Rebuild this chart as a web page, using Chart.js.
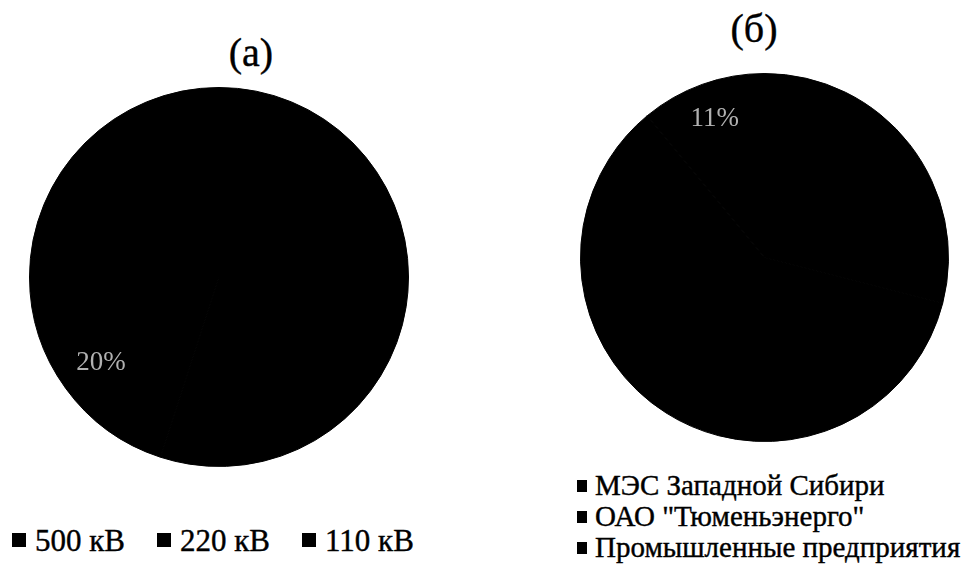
<!DOCTYPE html>
<html lang="ru">
  <head>
    <meta charset="UTF-8" />
    <title>Структура сетей</title>
    <script src="https://cdn.jsdelivr.net/npm/chart.js@4.4.0/dist/chart.umd.min.js"></script>
    <style>
      body {
        margin: 0;
        width: 970px;
        height: 573px;
        overflow: hidden;
        position: relative;
        background: #fff;
        color: #000;
      }
      .box { position: absolute; }
      .title, .legend {
        font-family: "Liberation Serif", "Times New Roman", serif;
        -webkit-text-stroke: 0.4px #000;
      }
      .title {
        position: absolute;
        font-size: 40px;
        line-height: 40px;
        text-align: center;
        width: 120px;
        white-space: nowrap;
      }
      .legend { position: absolute; white-space: nowrap; }
      .legend span.item { display: inline-flex; align-items: center; }
      .legend i { display: inline-block; background: #000; }
      #legendA { left: 12px; top: 521px; font-size: 31px; line-height: 31px; }
      #legendA span.item { margin-right: 32px; }
      #legendA i { width: 14px; height: 14px; margin-right: 9px; }
      #legendB { left: 577px; top: 470px; font-size: 29px; line-height: 31px; }
      #legendB span.item { display: flex; }
      #legendB i { width: 10px; height: 12px; margin-right: 8px; }
    </style>
  </head>
  <body>
    <div class="title" style="left: 191px; top: 33px">(а)</div>
    <div class="title" style="left: 694px; top: 9px">(б)</div>

    <div class="box" style="left: 29px; top: 87px; width: 380px; height: 380px">
      <canvas id="pieA"></canvas>
    </div>
    <div class="box" style="left: 580px; top: 73px; width: 369px; height: 369px">
      <canvas id="pieB"></canvas>
    </div>

    <div class="legend" id="legendA"></div>
    <div class="legend" id="legendB"></div>

    <script>
      // (а) по классам напряжения
      const labelsA = ["500 кВ", "220 кВ", "110 кВ"];
      const valuesA = [55, 20, 25];
      // (б) по собственникам
      const labelsB = ["МЭС Западной Сибири", 'ОАО "Тюменьэнерго"', "Промышленные предприятия"];
      const valuesB = [29, 60, 11];

      // only these percent labels are readable in the scan
      const showA = [false, true, false];
      const showB = [false, false, true];

      const pctLabels = {
        id: "pctLabels",
        afterDatasetsDraw(chart, args, opts) {
          const ctx = chart.ctx;
          const ds = chart.data.datasets[0];
          const sum = ds.data.reduce((a, b) => a + b, 0);
          chart.getDatasetMeta(0).data.forEach((arc, i) => {
            if (!opts.show[i]) return;
            const p = arc.getProps(["x", "y", "startAngle", "endAngle", "outerRadius"], true);
            const mid = (p.startAngle + p.endAngle) / 2;
            const r = p.outerRadius * opts.dist;
            ctx.save();
            ctx.font = "27px 'Liberation Serif'";
            ctx.fillStyle = "#b0b0b0";
            ctx.textAlign = "center";
            ctx.textBaseline = "middle";
            ctx.fillText(Math.round((ds.data[i] / sum) * 100) + "%", p.x + Math.cos(mid) * r, p.y + Math.sin(mid) * r);
            ctx.restore();
          });
        },
      };

      function drawPie(id, labels, values, show, dist) {
        return new Chart(document.getElementById(id), {
          type: "pie",
          data: {
            labels: labels,
            datasets: [
              {
                data: values,
                backgroundColor: "#000",
                borderColor: "#000",
                borderWidth: 1,
              },
            ],
          },
          options: {
            responsive: true,
            maintainAspectRatio: false,
            animation: false,
            plugins: {
              legend: { display: false },
              tooltip: { enabled: false },
              pctLabels: { show: show, dist: dist },
            },
          },
          plugins: [pctLabels],
        });
      }

      function fillLegend(el, chart) {
        chart.data.labels.forEach((txt, i) => {
          const item = document.createElement("span");
          item.className = "item";
          const sw = document.createElement("i");
          sw.style.background = chart.data.datasets[0].backgroundColor;
          item.appendChild(sw);
          item.appendChild(document.createTextNode(txt));
          el.appendChild(item);
        });
      }

      const chartA = drawPie("pieA", labelsA, valuesA, showA, 0.77);
      const chartB = drawPie("pieB", labelsB, valuesB, showB, 0.8);
      fillLegend(document.getElementById("legendA"), chartA);
      fillLegend(document.getElementById("legendB"), chartB);
    </script>
  </body>
</html>
